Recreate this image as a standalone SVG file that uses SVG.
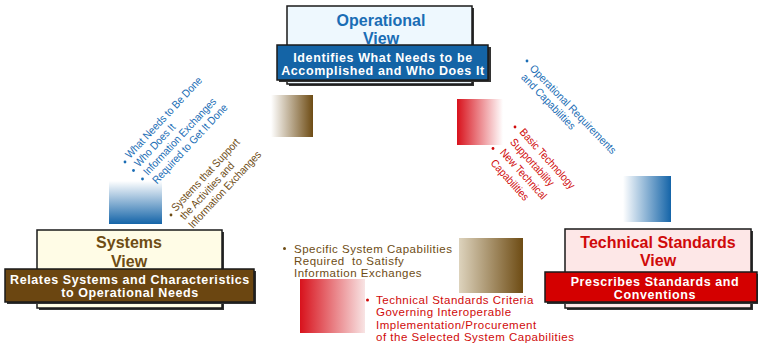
<svg xmlns="http://www.w3.org/2000/svg" width="758" height="345" viewBox="0 0 758 345">
<defs>
<linearGradient id="gBrownH" x1="0" y1="0" x2="1" y2="0"><stop offset="0" stop-color="#ffffff"/><stop offset="1" stop-color="#6e4c14"/></linearGradient>
<linearGradient id="gBrownH2" x1="0" y1="0" x2="1" y2="0"><stop offset="0" stop-color="#ddd3bd"/><stop offset="1" stop-color="#6e4c14"/></linearGradient>
<linearGradient id="gRedH" x1="0" y1="0" x2="1" y2="0"><stop offset="0" stop-color="#d8121c"/><stop offset="1" stop-color="#ffffff"/></linearGradient>
<linearGradient id="gRedH2" x1="0" y1="0" x2="1" y2="0"><stop offset="0" stop-color="#d8121c"/><stop offset="1" stop-color="#f8e4e4"/></linearGradient>
<linearGradient id="gBlueH" x1="0" y1="0" x2="1" y2="0"><stop offset="0" stop-color="#ffffff"/><stop offset="1" stop-color="#1464a8"/></linearGradient>
<linearGradient id="gBlueV" x1="0" y1="0" x2="0" y2="1"><stop offset="0" stop-color="#ffffff"/><stop offset="1" stop-color="#1464a8"/></linearGradient>
</defs>
<style>
.title{font-family:"Liberation Sans",Arial,sans-serif;font-weight:bold;font-size:16px;text-anchor:middle}
.ban{font-family:"Liberation Sans",Arial,sans-serif;font-weight:bold;font-size:12.5px;letter-spacing:0.6px;fill:#ffffff;text-anchor:middle}
.rot{font-family:"Liberation Sans",Arial,sans-serif;font-size:11px}
.lst{font-family:"Liberation Sans",Arial,sans-serif;font-size:11.5px;letter-spacing:0.5px}
.box{stroke:#1a1a1a;stroke-width:1.5}
.shadow{fill:#333333}
.blue{fill:#1a6db5}
.brown{fill:#6e4c14}
.red{fill:#d00a0a}
</style>

<g id="decor">
<rect x="271" y="95" width="42" height="42" fill="url(#gBrownH)"/>
<rect x="457" y="99" width="46" height="46" fill="url(#gRedH)"/>
<rect x="623" y="176" width="48" height="46" fill="url(#gBlueH)"/>
<rect x="109" y="181" width="53" height="43" fill="url(#gBlueV)"/>
<rect x="459" y="238" width="64" height="55" fill="url(#gBrownH2)"/>
<rect x="300" y="279" width="65" height="54" fill="url(#gRedH2)"/>
</g>

<g id="operational-view">
<rect class="shadow" x="289" y="8" width="185" height="78"/>
<rect class="box" x="287" y="6" width="185" height="78" fill="#eef8fe"/>
<text class="title blue" x="381" y="25.5">Operational</text>
<text class="title blue" x="381" y="43.5">View</text>
<rect class="shadow" x="279" y="47" width="212" height="35"/>
<rect class="box" x="277" y="45" width="211" height="35" fill="#1464a6"/>
<text class="ban" x="383" y="61.5">Identifies What Needs to be</text>
<text class="ban" x="383" y="75">Accomplished and Who Does It</text>
</g>

<g id="systems-view">
<rect class="shadow" x="39" y="232" width="185" height="78"/>
<rect class="box" x="37" y="230" width="185" height="78" fill="#fffce6"/>
<text class="title brown" x="129" y="248">Systems</text>
<text class="title brown" x="129" y="266.5">View</text>
<rect class="shadow" x="7" y="271" width="249" height="33"/>
<rect class="box" x="5" y="269" width="249" height="33" fill="#6b4611"/>
<text class="ban" x="130" y="284">Relates Systems and Characteristics</text>
<text class="ban" x="130" y="297">to Operational Needs</text>
</g>

<g id="technical-view">
<rect class="shadow" x="567" y="231" width="186" height="79"/>
<rect class="box" x="565" y="229" width="186" height="79" fill="#fde7e7"/>
<text class="title red" x="658" y="247.5">Technical Standards</text>
<text class="title red" x="658" y="266">View</text>
<rect class="shadow" x="547" y="274" width="211" height="30"/>
<rect class="box" x="545" y="272" width="212" height="30" fill="#d40000"/>
<text class="ban" x="655" y="285.5">Prescribes Standards and</text>
<text class="ban" x="655" y="298.5">Conventions</text>
</g>

<g id="connectors">
<g id="labels-operational-to-systems" class="blue">
<circle cx="125" cy="162" r="1.4"/>
<circle cx="133.5" cy="170.5" r="1.4"/>
<circle cx="142.5" cy="179" r="1.4"/>
<text class="rot" transform="translate(130,159) rotate(-47) scale(0.9,1)">What Needs to Be Done</text>
<text class="rot" transform="translate(139,167.5) rotate(-47) scale(0.9,1)">Who Does It</text>
<text class="rot" transform="translate(148,176) rotate(-47) scale(0.9,1)">Information Exchanges</text>
<text class="rot" transform="translate(157,184.5) rotate(-47) scale(0.9,1)">Required to Get It Done</text>
</g>
<g id="labels-systems-to-operational" class="brown">
<circle cx="171" cy="215" r="1.4"/>
<text class="rot" transform="translate(176,212) rotate(-47) scale(0.9,1)">Systems that Support</text>
<text class="rot" transform="translate(184.5,220.5) rotate(-47) scale(0.9,1)">the Activities and</text>
<text class="rot" transform="translate(193,229) rotate(-47) scale(0.9,1)">Information Exchanges</text>
</g>
<g id="labels-operational-to-technical" class="blue">
<circle cx="527" cy="61" r="1.4"/>
<text class="rot" transform="translate(529,69) rotate(46) scale(0.93,1)">Operational Requirements</text>
<text class="rot" transform="translate(520.5,78) rotate(46) scale(0.93,1)">and Capabilities</text>
</g>
<g id="labels-technical-to-operational" class="red">
<circle cx="515" cy="127" r="1.4"/>
<circle cx="493" cy="148.5" r="1.4"/>
<text class="rot" transform="translate(519,132.5) rotate(48) scale(0.9,1)">Basic Technology</text>
<text class="rot" transform="translate(509.5,142.5) rotate(48) scale(0.9,1)">Supportability</text>
<text class="rot" transform="translate(499.5,153) rotate(48) scale(0.9,1)">New Technical</text>
<text class="rot" transform="translate(490,163.5) rotate(48) scale(0.9,1)">Capabilities</text>
</g>
<g id="labels-systems-technical-bottom">
<circle class="brown" cx="284.5" cy="248.5" r="1.5"/>
<text class="lst brown" x="294" y="253" xml:space="preserve">Specific System Capabilities</text>
<text class="lst brown" x="294" y="265" xml:space="preserve">Required  to Satisfy</text>
<text class="lst brown" x="294" y="277">Information Exchanges</text>
<circle class="red" cx="367.5" cy="300" r="1.5"/>
<text class="lst red" x="376" y="304">Technical Standards Criteria</text>
<text class="lst red" x="376" y="316.3">Governing Interoperable</text>
<text class="lst red" x="376" y="328.6">Implementation/Procurement</text>
<text class="lst red" x="376" y="341">of the Selected System Capabilities</text>
</g>
</g>
</svg>
